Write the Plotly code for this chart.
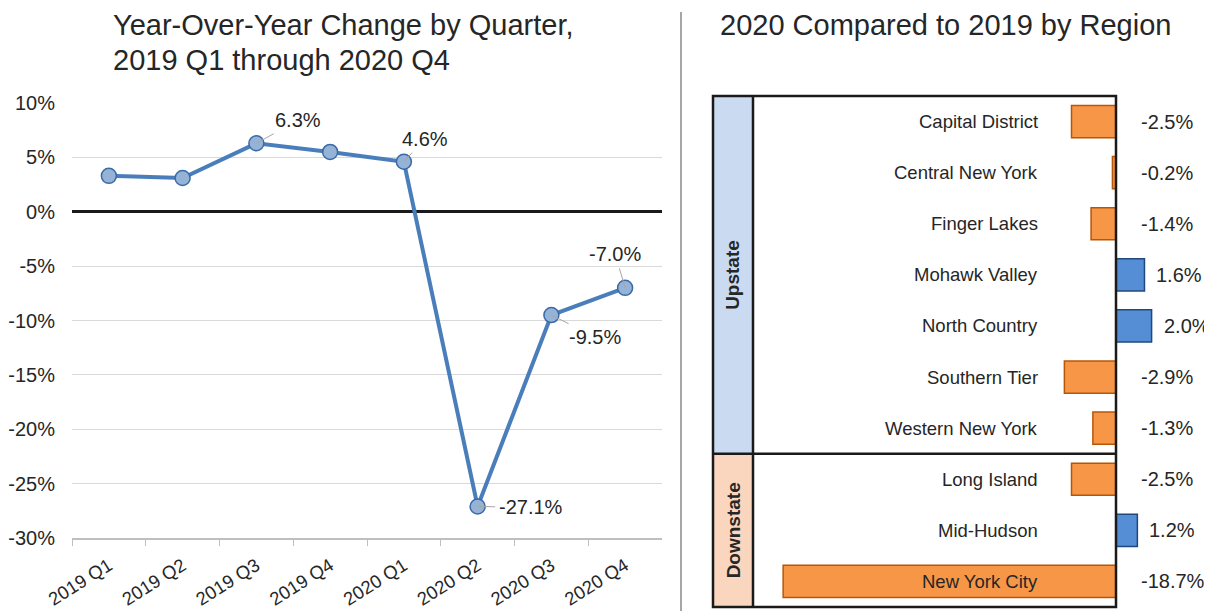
import plotly.graph_objects as go

# ---------------- data ----------------
quarters = ["2019 Q1", "2019 Q2", "2019 Q3", "2019 Q4", "2020 Q1", "2020 Q2", "2020 Q3", "2020 Q4"]
yoy_change = [3.3, 3.1, 6.3, 5.5, 4.6, -27.1, -9.5, -7.0]
labeled_quarters = ["2019 Q3", "2020 Q1", "2020 Q2", "2020 Q3", "2020 Q4"]
y_ticks = [10, 5, 0, -5, -10, -15, -20, -25, -30]

regions = ["Capital District", "Central New York", "Finger Lakes", "Mohawk Valley", "North Country",
           "Southern Tier", "Western New York", "Long Island", "Mid-Hudson", "New York City"]
region_change = [-2.5, -0.2, -1.4, 1.6, 2.0, -2.9, -1.3, -2.5, 1.2, -18.7]
region_groups = ["Upstate"] * 7 + ["Downstate"] * 3

left_title = ["Year-Over-Year Change by Quarter,", "2019 Q1 through 2020 Q4"]
right_title = "2020 Compared to 2019 by Region"

# ---------------- layout helpers ----------------
# the page body has an 8px margin, so the figure is 8px smaller and all
# positions below are given in window pixels and shifted by that offset
OFF = 8
W, H = 1212 - OFF, 611 - OFF
def px_x(x):
    return (x - OFF) / W
def px_y(y):
    return 1 - (y - OFF) / H

LBL = "Liberation Sans, Arial, sans-serif"
REG = "Liberation Sans, Arial, sans-serif"
TXT = "#262626"

ORANGE, ORANGE_LINE = "#F79646", "#B65708"
BLUE, BLUE_LINE = "#558ED5", "#1F497D"

fig = go.Figure()

# ---------------- left: line chart ----------------
fig.add_trace(go.Scatter(
    x=quarters, y=yoy_change, mode="lines+markers",
    line=dict(color="#4A7EBB", width=4),
    marker=dict(size=15, color="#95B3D7", line=dict(color="#3A6AA6", width=1.5)),
    xaxis="x", yaxis="y", showlegend=False, hoverinfo="skip"))

label_offsets = {"2019 Q3": (42, -23), "2020 Q1": (21, -23), "2020 Q2": (53, 1),
                 "2020 Q3": (44, 22), "2020 Q4": (-10, -34)}
annotations = []
for q, v in zip(quarters, yoy_change):
    if q in labeled_quarters:
        ax, ay = label_offsets[q]
        annotations.append(dict(
            x=q, y=v, xref="x", yref="y", text=f"{v:.1f}%", showarrow=True,
            arrowhead=0, arrowwidth=1, arrowcolor="#A6A6A6", ax=ax, ay=ay,
            standoff=0, startstandoff=2,
            font=dict(family=LBL, size=20, color=TXT)))

# ---------------- right: bar chart ----------------
bar_colors = [ORANGE if v < 0 else BLUE for v in region_change]
bar_lines = [ORANGE_LINE if v < 0 else BLUE_LINE for v in region_change]
fig.add_trace(go.Bar(
    y=regions, x=region_change, orientation="h", width=0.63,
    marker=dict(color=bar_colors, line=dict(color=bar_lines, width=1.5)),
    xaxis="x2", yaxis="y2", showlegend=False, hoverinfo="skip"))

for r, v in zip(regions, region_change):
    annotations.append(dict(x=px_x(1040), y=r, xref="paper", yref="y2", text=r,
                            xanchor="right", yanchor="middle", showarrow=False,
                            font=dict(family=LBL, size=18.5, color=TXT)))
    if v < 0:
        annotations.append(dict(x=px_x(1139), y=r, xref="paper", yref="y2", text=f"{v:.1f}%",
                                xanchor="left", yanchor="middle", showarrow=False,
                                font=dict(family=LBL, size=20, color=TXT)))
    else:
        annotations.append(dict(x=v, y=r, xref="x2", yref="y2", text=f"{v:.1f}%",
                                xanchor="left", yanchor="middle", xshift=10, showarrow=False,
                                font=dict(family=LBL, size=20, color=TXT)))

# box geometry (window pixels)
bx0, bx1, gx, by0, by1 = 713, 1116, 753, 96, 607
row_h = (by1 - by0) / len(regions)
n_up = region_groups.count("Upstate")
split_y = by0 + n_up * row_h

shapes = [
    dict(type="rect", xref="paper", yref="paper", x0=px_x(bx0), x1=px_x(gx), y0=px_y(by0), y1=px_y(split_y),
         fillcolor="#C9DAF1", line=dict(width=0), layer="below"),
    dict(type="rect", xref="paper", yref="paper", x0=px_x(bx0), x1=px_x(gx), y0=px_y(split_y), y1=px_y(by1),
         fillcolor="#FAD6BF", line=dict(width=0), layer="below"),
    dict(type="rect", xref="paper", yref="paper", x0=px_x(bx0), x1=px_x(bx1), y0=px_y(by0), y1=px_y(by1),
         line=dict(color="#1A1A1A", width=2.5), layer="above"),
    dict(type="line", xref="paper", yref="paper", x0=px_x(gx), x1=px_x(gx), y0=px_y(by0), y1=px_y(by1),
         line=dict(color="#1A1A1A", width=2.5)),
    dict(type="line", xref="paper", yref="paper", x0=px_x(bx0), x1=px_x(bx1), y0=px_y(split_y), y1=px_y(split_y),
         line=dict(color="#1A1A1A", width=2.5)),
    # separator between panels
    dict(type="line", xref="paper", yref="paper", x0=px_x(681), x1=px_x(681), y0=px_y(12), y1=0,
         line=dict(color="#A6A6A6", width=2)),
]

annotations.append(dict(x=px_x((bx0 + gx) / 2), y=px_y((by0 + split_y) / 2), xref="paper", yref="paper",
                        text="<b>Upstate</b>", textangle=-90, showarrow=False,
                        xanchor="center", yanchor="middle",
                        font=dict(family=REG, size=19, color=TXT)))
annotations.append(dict(x=px_x((bx0 + gx) / 2), y=px_y((split_y + by1) / 2), xref="paper", yref="paper",
                        text="<b>Downstate</b>", textangle=-90, showarrow=False,
                        xanchor="center", yanchor="middle",
                        font=dict(family=REG, size=19, color=TXT)))

# titles
for i, line in enumerate(left_title):
    annotations.append(dict(x=px_x(111), y=px_y(25 + 35 * i), xref="paper", yref="paper",
                            xanchor="left", yanchor="middle", showarrow=False, text=line,
                            font=dict(family=REG, size=29, color=TXT)))
annotations.append(dict(x=px_x(718), y=px_y(25), xref="paper", yref="paper", xanchor="left",
                        yanchor="middle", showarrow=False, text=right_title,
                        font=dict(family=REG, size=29, color=TXT)))

px_per_pct = 17.8
fig.update_layout(
    width=W, height=H, margin=dict(l=0, r=0, t=0, b=0, autoexpand=False),
    paper_bgcolor="white", plot_bgcolor="rgba(0,0,0,0)",
    xaxis=dict(domain=[px_x(72), px_x(662)], type="category", categoryorder="array",
               categoryarray=quarters, range=[-0.5, len(quarters) - 0.5],
               tickson="boundaries", ticks="outside", ticklen=6, tickcolor="#BFBFBF",
               showline=True, linecolor="#BFBFBF", linewidth=1.5, showgrid=False, automargin=False,
               ticklabelstandoff=8,
               tickangle=-32, tickfont=dict(family=LBL, size=18.5, color=TXT), anchor="y"),
    yaxis=dict(domain=[px_y(538), px_y(103)], range=[-30, 10], tickvals=y_ticks,
               ticktext=[f"{t}%" for t in y_ticks], showgrid=True, gridcolor="#D9D9D9", gridwidth=1,
               zeroline=True, zerolinecolor="#1A1A1A", zerolinewidth=2.5, automargin=False,
               ticklabelstandoff=16,
               tickfont=dict(family=LBL, size=20, color=TXT), ticks="", anchor="x"),
    xaxis2=dict(domain=[px_x(gx), 1.0], range=[-(bx1 - gx) / px_per_pct, (1212 - bx1) / px_per_pct],
                visible=False, anchor="y2", automargin=False),
    yaxis2=dict(domain=[px_y(by1), px_y(by0)], type="category", categoryorder="array",
                categoryarray=regions, range=[len(regions) - 0.5, -0.5], visible=False, anchor="x2",
                automargin=False),
    shapes=shapes, annotations=annotations,
)

fig.write_html("out.html")
